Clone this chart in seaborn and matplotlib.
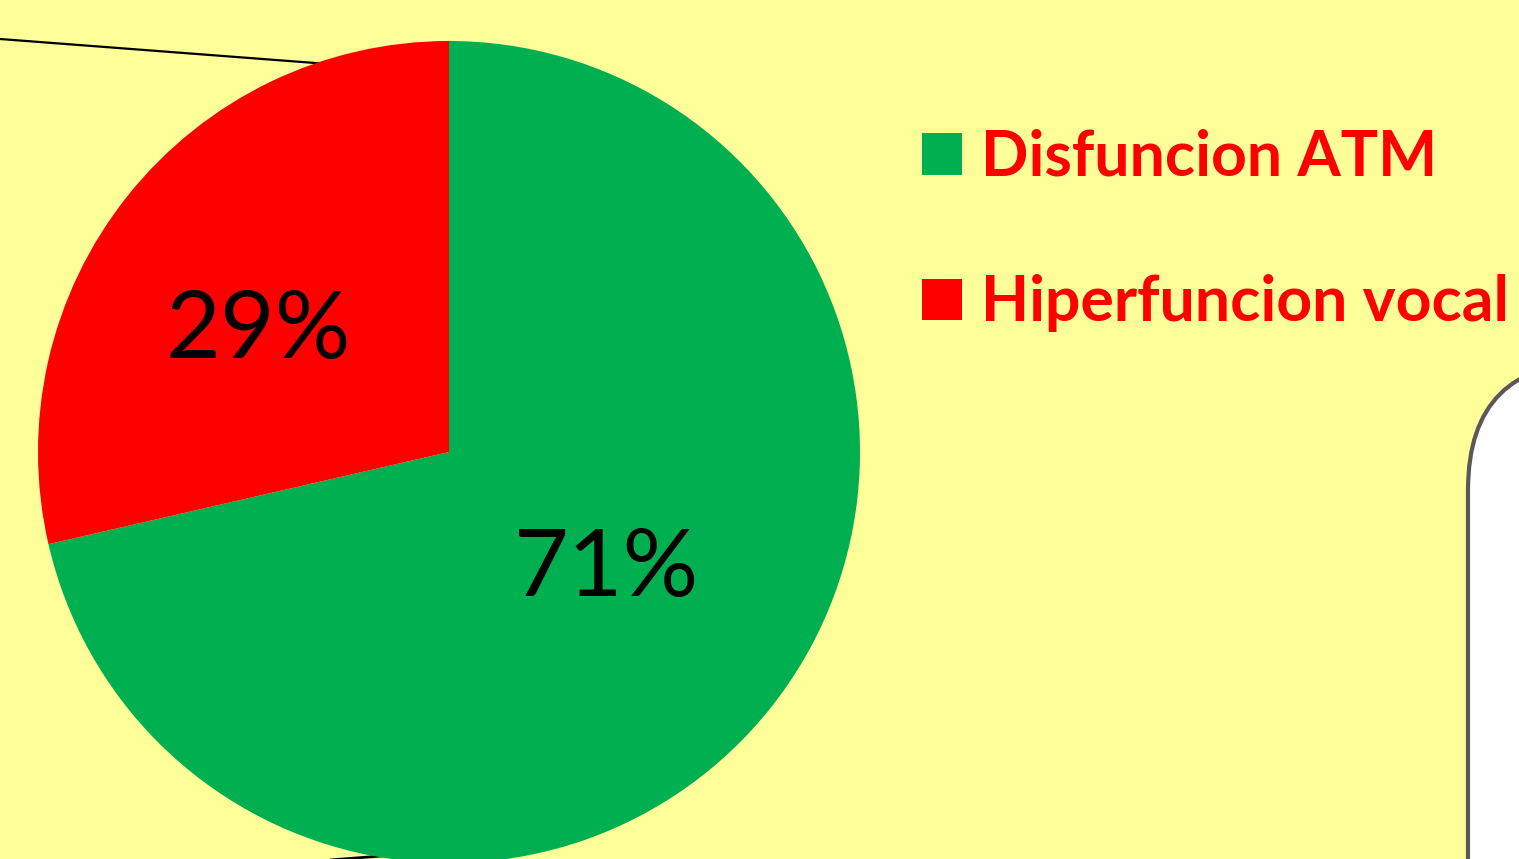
import matplotlib
matplotlib.use("Agg")
from matplotlib import pyplot as plt
from matplotlib.patches import FancyBboxPatch
import seaborn as sns
import numpy as np

# data
categories = ["Disfuncion ATM", "Hiperfuncion vocal"]
values = [71.4, 28.6]
colors = ["#00B050", "#FF0000"]
background = "#FFFF99"

sns.set_theme(style="white")
plt.rcParams["font.family"] = ["Lato", "DejaVu Sans"]

W, H = 1519, 859
fig = plt.figure(figsize=(W / 100, H / 100), dpi=100, facecolor=background)
ax = fig.add_axes([0, 0, 1, 1])
ax.set_facecolor(background)

# connector lines from the slide behind the chart
ax.plot([0, 420], [H - 39, H - 71], color="black", lw=1.6, zorder=1)
ax.plot([330, 420], [H - 860, H - 853], color="black", lw=2, zorder=1)

# rounded box at right edge
box = FancyBboxPatch((1468, -200), 600, H - 362 + 200,
                     boxstyle="round,pad=0,rounding_size=128",
                     facecolor="white", edgecolor="#595959", lw=3, zorder=1)
ax.add_patch(box)

center = (449, H - 452)
radius = 411
wedges, _ = ax.pie(values, colors=colors, startangle=90, counterclock=False,
                   center=center, radius=radius, frame=True,
                   wedgeprops={"linewidth": 0, "zorder": 2})
ax.set_xlim(0, W)
ax.set_ylim(0, H)
ax.set_aspect("equal")
ax.axis("off")

# percentage labels at Excel-like positions
label_dist = [0.478, 0.549]
label_shift = [1.7, 6.4]
for w, v, d, s in zip(wedges, values, label_dist, label_shift):
    mid = np.deg2rad((w.theta1 + w.theta2) / 2 + s)
    x = center[0] + d * radius * np.cos(mid)
    y = center[1] + d * radius * np.sin(mid)
    ax.text(x, y, f"{v:.0f}%", ha="center", va="center", fontsize=68,
            color="black", zorder=3)

leg = fig.legend(wedges, categories, loc="upper left",
                 bbox_to_anchor=(897 / W, 1 - 104 / H),
                 frameon=False,
                 prop={"weight": "bold", "size": 45},
                 handlelength=0.64, handleheight=0.64, handletextpad=0.3,
                 labelspacing=1.4, borderaxespad=0)
for t in leg.get_texts():
    t.set_color("#FF0000")

fig.savefig("out.png", dpi=100, facecolor=background)
